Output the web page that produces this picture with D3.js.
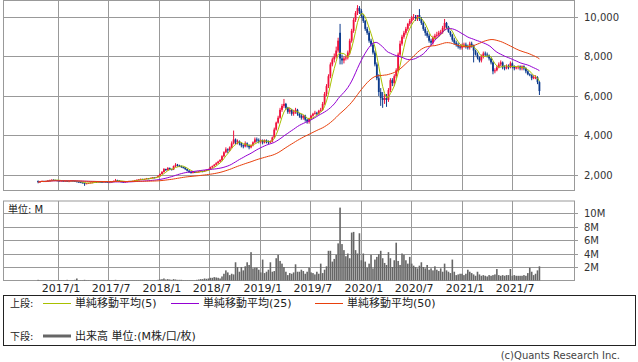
<!DOCTYPE html>
<html>
<head>
<meta charset="utf-8">
<script src="https://d3js.org/d3.v7.min.js"></script>
<style>
  body { margin: 0; background: #fff; }
  text { font-family: "DejaVu Sans", "Noto Sans CJK JP", sans-serif; }
</style>
</head>
<body>
<script>
// weekly candles, first week 2016/10/21
var startWeek = new Date(2016, 9, 21);

var opens = [
  1700,1640,1680,1700,1660,1700,1720,1740,1760,1750,
  1730,1720,1700,1710,1690,1700,1680,1690,1720,1700,
  1680,1660,1640,1620,1600,1560,1580,1600,1620,1630,
  1650,1640,1660,1650,1640,1660,1650,1630,1640,1660,
  1700,1740,1720,1680,1660,1650,1660,1680,1700,1690,
  1710,1740,1760,1780,1800,1790,1800,1830,1820,1850,
  1880,1870,1900,1960,2050,2150,2300,2250,2350,2300,
  2280,2450,2520,2480,2450,2400,2380,2300,2220,2150,
  2120,2150,2130,2160,2180,2200,2180,2230,2260,2300,
  2400,2450,2520,2600,2680,2760,2950,3150,3300,3250,
  3400,3600,3800,3650,3700,3600,3500,3450,3600,3500,
  3400,3500,3650,3800,3750,3700,3750,3650,3750,3700,
  3650,3700,3900,4300,4650,4900,5300,5500,5600,5400,
  5200,5300,5100,5200,5300,5100,5000,4900,5000,4800,
  4700,4850,5000,5100,5150,5100,5250,5300,5600,6100,
  6500,7000,7600,7850,8000,8300,9200,7900,7800,7900,
  7950,8200,8800,9300,9850,10200,10450,10300,10050,9800,
  9400,9200,8800,8600,8200,7600,6900,6200,5900,5800,
  5900,5800,6300,6800,6650,7000,7300,8100,8650,9000,
  9200,9400,9650,9800,9950,10000,9950,10100,9900,9700,
  9400,9200,9050,8800,8700,8950,9050,9100,9200,9250,
  9450,9700,9500,9250,9100,8850,8700,8600,8500,8450,
  8550,8600,8500,8450,8650,8550,8300,8100,7950,7800,
  8000,8150,8100,8050,7900,7700,7250,7300,7450,7600,
  7700,7450,7400,7500,7450,7650,7500,7400,7450,7500,
  7400,7500,7400,7250,7100,7050,6900,6950,6950,6700
];
var highs = [
  1720,1700,1720,1710,1710,1740,1760,1780,1780,1760,
  1750,1730,1730,1720,1710,1710,1700,1730,1730,1710,
  1690,1670,1650,1630,1610,1590,1610,1630,1640,1660,
  1670,1670,1670,1660,1670,1670,1660,1650,1670,1720,
  1800,1760,1730,1700,1670,1670,1690,1710,1710,1720,
  1750,1770,1790,1820,1810,1810,1850,1840,1870,1900,
  1900,1910,1980,2080,2200,2350,2320,2400,2380,2320,
  2480,2600,2560,2520,2480,2430,2400,2320,2250,2180,
  2170,2170,2180,2200,2230,2220,2250,2280,2320,2420,
  2480,2560,2650,2720,2800,3000,3200,3400,3350,3450,
  3700,4250,3850,3800,3750,3650,3550,3700,3650,3550,
  3550,3700,3900,3900,3850,3800,3800,3800,3800,3750,
  3750,3950,4400,4700,5000,5400,5600,5850,5650,5450,
  5400,5350,5300,5400,5350,5150,5100,5050,5050,4850,
  4900,5050,5150,5250,5200,5300,5400,5700,6200,6600,
  7100,7700,7950,8150,8500,8950,9650,8100,8000,8050,
  8300,8900,9400,9950,10300,10600,10550,10400,10150,9850,
  9500,9300,8900,8700,8300,7700,7100,6400,6200,6100,
  6100,6400,6900,6900,7100,7400,8200,8800,9100,9300,
  9500,9700,9900,10050,10150,10100,10100,10400,10000,9800,
  9500,9300,9150,8900,9050,9150,9250,9300,9350,9550,
  9900,9750,9550,9300,9150,8950,8800,8700,8600,8650,
  8700,8700,8600,8750,8750,8600,8350,8200,8000,8100,
  8250,8250,8200,8100,7950,7750,7400,7550,7700,7800,
  7750,7550,7600,7600,7750,7700,7550,7500,7550,7550,
  7550,7550,7450,7300,7150,7100,7050,7050,7000,6750
];
var lows = [
  1580,1620,1660,1640,1640,1680,1700,1720,1730,1710,
  1700,1680,1690,1670,1670,1660,1660,1680,1680,1660,
  1640,1620,1600,1580,1450,1540,1560,1580,1600,1610,
  1620,1620,1630,1620,1620,1630,1610,1610,1620,1640,
  1680,1700,1660,1640,1630,1630,1650,1670,1670,1670,
  1690,1720,1740,1760,1770,1770,1790,1800,1800,1830,
  1840,1850,1880,1930,2020,2120,2200,2220,2250,2230,
  2250,2400,2420,2400,2360,2330,2250,2180,2100,2070,
  2080,2100,2100,2130,2150,2140,2160,2200,2230,2270,
  2350,2420,2480,2560,2640,2700,2900,3100,3100,3200,
  3350,3550,3550,3550,3500,3400,3350,3400,3400,3300,
  3350,3450,3600,3650,3600,3600,3550,3600,3600,3550,
  3600,3650,3850,4250,4600,4850,5200,5400,5300,5100,
  5100,5000,5000,5100,5000,4900,4800,4800,4700,4600,
  4600,4800,4950,5050,5000,5050,5200,5250,5550,6000,
  6400,6900,7500,7700,7900,8200,7600,7600,7650,7800,
  7850,8100,8700,9200,9750,10100,10150,9950,9700,9300,
  9100,8700,8500,8100,7500,6800,6000,5500,5400,5600,
  5450,5700,6200,6500,6500,6900,7200,8000,8550,8900,
  9100,9300,9550,9700,9850,9800,9800,9800,9600,9300,
  9050,8950,8700,8550,8600,8850,8950,9000,9100,9150,
  9350,9400,9200,9000,8750,8600,8500,8400,8350,8350,
  8450,8400,8350,8350,8450,7700,8050,7850,7700,7700,
  7900,8000,7950,7800,7600,7100,7150,7250,7400,7500,
  7350,7300,7350,7350,7400,7400,7300,7350,7350,7300,
  7300,7300,7150,7050,7000,6800,6850,6850,6600,6050
];
var closes = [
  1640,1680,1700,1660,1700,1720,1740,1760,1750,1730,
  1720,1700,1710,1690,1700,1680,1690,1720,1700,1680,
  1660,1640,1620,1600,1560,1580,1600,1620,1630,1650,
  1640,1660,1650,1640,1660,1650,1630,1640,1660,1700,
  1740,1720,1680,1660,1650,1660,1680,1700,1690,1710,
  1740,1760,1780,1800,1790,1800,1830,1820,1850,1880,
  1870,1900,1960,2050,2150,2300,2250,2350,2300,2280,
  2450,2520,2480,2450,2400,2380,2300,2220,2150,2120,
  2150,2130,2160,2180,2200,2180,2230,2260,2300,2400,
  2450,2520,2600,2680,2760,2950,3150,3300,3250,3400,
  3600,3800,3650,3700,3600,3500,3450,3600,3500,3400,
  3500,3650,3800,3750,3700,3750,3650,3750,3700,3650,
  3700,3900,4300,4650,4900,5300,5500,5600,5400,5200,
  5300,5100,5200,5300,5100,5000,4900,5000,4800,4700,
  4850,5000,5100,5150,5100,5250,5300,5600,6100,6500,
  7000,7600,7850,8000,8300,8800,7900,7800,7900,7950,
  8200,8800,9300,9850,10200,10450,10300,10050,9800,9400,
  9200,8800,8600,8200,7600,6900,6200,5900,5800,5900,
  5800,6300,6800,6650,7000,7300,8100,8650,9000,9200,
  9400,9650,9800,9950,10000,9950,10100,9900,9700,9400,
  9200,9050,8800,8700,8950,9050,9100,9200,9250,9450,
  9700,9500,9250,9100,8850,8700,8600,8500,8450,8550,
  8600,8500,8450,8650,8550,8300,8100,7950,7800,8000,
  8150,8100,8050,7900,7700,7250,7300,7450,7600,7700,
  7450,7400,7500,7450,7650,7500,7400,7450,7500,7400,
  7500,7400,7250,7100,7050,6900,6950,6950,6700,6250
];
// volume, millions
var volumes = [
  0.1,0.05,0.05,0.05,0.05,0.05,0.05,0.05,0.05,0.05,
  0.05,0.05,0.05,0.05,0.05,0.1,0.05,0.05,0.05,0.1,
  0.3,0.05,0.05,0.05,0.1,0.05,0.05,0.05,0.05,0.05,
  0.05,0.05,0.05,0.05,0.05,0.05,0.05,0.05,0.05,0.05,
  0.1,0.05,0.05,0.05,0.05,0.05,0.05,0.05,0.05,0.05,
  0.05,0.05,0.05,0.05,0.05,0.05,0.05,0.05,0.05,0.05,
  0.05,0.05,0.1,0.15,0.2,0.3,0.15,0.2,0.15,0.1,
  0.2,0.15,0.1,0.1,0.1,0.05,0.05,0.05,0.05,0.05,
  0.05,0.05,0.1,0.15,0.2,0.2,0.3,0.25,0.3,0.4,
  0.4,0.5,0.45,0.4,0.3,0.6,1.0,1.5,1.2,0.8,
  1.0,0.9,2.7,2.0,1.3,2.0,1.5,2.1,2.7,2.3,
  4.2,1.8,1.9,1.9,1.6,1.2,3.1,1.1,1.3,1.6,
  2.7,1.3,1.4,3.3,3.8,2.9,2.5,2.0,1.3,0.8,
  1.1,1.0,1.2,2.4,1.3,1.3,1.6,1.4,1.0,1.3,
  1.9,1.2,1.1,0.9,1.3,1.0,2.5,1.1,1.6,2.1,
  4.4,4.4,2.8,3.2,3.8,5.5,10.8,5.4,4.5,3.6,
  4.0,3.3,7.1,7.2,4.5,4.0,7.0,3.0,4.0,2.8,
  1.9,2.5,3.8,1.8,3.1,3.5,3.9,4.4,3.3,2.6,
  2.3,4.2,3.3,2.0,3.0,5.6,2.9,2.3,4.0,3.8,
  3.0,2.5,3.5,2.5,2.2,2.0,1.8,2.2,2.7,2.0,
  1.8,2.3,1.6,1.8,1.5,2.1,1.6,1.4,1.8,1.3,
  2.5,1.5,1.3,1.1,3.1,1.3,0.8,0.9,1.0,1.0,
  0.8,1.0,1.6,1.3,1.1,0.9,0.7,1.3,0.9,0.7,
  0.8,0.7,0.6,0.8,0.7,0.8,0.9,1.7,0.8,0.7,
  0.8,0.7,0.8,0.8,1.7,0.7,0.8,0.7,0.7,0.7,
  0.7,0.8,0.7,1.1,1.9,1.3,0.8,1.0,1.5,2.1
];

var priceTicks = [2000, 4000, 6000, 8000, 10000];
var volumeTicks = [2, 4, 6, 8, 10];
var maPeriods = [5, 25, 50];
var maColors = ["#a8c000", "#9400d3", "#e8400c"];
var maLabels = ["単純移動平均(5)", "単純移動平均(25)", "単純移動平均(50)"];

var data = closes.map(function (c, i) {
  return { date: d3.timeDay.offset(startWeek, 7 * i), o: opens[i], h: highs[i], l: lows[i], c: c, v: volumes[i] };
});

var W = 638, H = 362;
var left = 3, right = 574;
var pTop = 0.5, pBottom = 190.5;
var vTop = 201, vBottom = 280.5;
var gridColor = "#999";

var svg = d3.select("body").append("svg")
  .attr("width", W).attr("height", H);

var x = d3.scaleTime()
  .domain([new Date(2016, 5, 16), new Date(2022, 1, 10)])
  .range([left, right]);
var yP = d3.scaleLinear().domain([1215, 10835]).range([pBottom, pTop]);
var yV = d3.scaleLinear().domain([0, 11.78]).range([vBottom, vTop]);

// half-year ticks inside the data range only
var xTicks = d3.timeMonth.every(6).range(new Date(2017, 0, 1), new Date(2021, 6, 2));
var fmtDate = d3.timeFormat("%Y/%-m");

function panel(top, bottom, yScale, ticks, fmt) {
  var g = svg.append("g");
  g.selectAll(".hg").data(ticks).enter().append("line")
    .attr("x1", left).attr("x2", right + 4)
    .attr("y1", function (d) { return Math.round(yScale(d)) + 0.5; })
    .attr("y2", function (d) { return Math.round(yScale(d)) + 0.5; })
    .attr("stroke", gridColor);
  g.selectAll(".vg").data(xTicks).enter().append("line")
    .attr("x1", function (d) { return Math.round(x(d)) + 0.5; })
    .attr("x2", function (d) { return Math.round(x(d)) + 0.5; })
    .attr("y1", top).attr("y2", bottom)
    .attr("stroke", gridColor);
  g.append("rect")
    .attr("x", left + 0.5).attr("y", top)
    .attr("width", right - left).attr("height", bottom - top)
    .attr("fill", "none").attr("stroke", gridColor);
  g.selectAll(".yl").data(ticks).enter().append("text")
    .attr("x", 584)
    .attr("y", function (d) { return yScale(d) + 4; })
    .attr("font-size", "10px").attr("fill", "#333")
    .text(fmt);
}

panel(pTop, pBottom, yP, priceTicks, d3.format(","));
panel(vTop, vBottom, yV, volumeTicks, function (d) { return d + "M"; });

// volume bars
svg.append("g").selectAll("rect").data(data).enter().append("rect")
  .attr("x", function (d) { return x(d.date) - 0.8; })
  .attr("width", 1.6)
  .attr("y", function (d) { return yV(d.v); })
  .attr("height", function (d) { return vBottom - yV(d.v); })
  .attr("fill", "#666");

// candles
var up = "#f0103c", down = "#0c3a8c";
var cg = svg.append("g");
cg.selectAll("line").data(data).enter().append("line")
  .attr("x1", function (d) { return x(d.date); })
  .attr("x2", function (d) { return x(d.date); })
  .attr("y1", function (d) { return yP(d.h); })
  .attr("y2", function (d) { return yP(d.l); })
  .attr("stroke", function (d) { return d.c >= d.o ? up : down; })
  .attr("stroke-width", 1);
cg.selectAll("rect").data(data).enter().append("rect")
  .attr("x", function (d) { return x(d.date) - 0.9; })
  .attr("width", 1.8)
  .attr("y", function (d) { return yP(Math.max(d.o, d.c)); })
  .attr("height", function (d) { return Math.max(1, Math.abs(yP(d.o) - yP(d.c))); })
  .attr("fill", function (d) { return d.c >= d.o ? up : down; });

// moving averages
maPeriods.forEach(function (n, k) {
  var ma = data.map(function (d, i) {
    return { date: d.date, v: d3.mean(closes.slice(Math.max(0, i - n + 1), i + 1)) };
  });
  svg.append("path").datum(ma)
    .attr("fill", "none").attr("stroke", maColors[k]).attr("stroke-width", 1)
    .attr("d", d3.line().x(function (d) { return x(d.date); }).y(function (d) { return yP(d.v); }));
});

// labels
svg.append("text").attr("x", 8).attr("y", 213)
  .attr("font-size", "10px").attr("fill", "#222").text("単位: M");

svg.append("g").selectAll("text").data(xTicks).enter().append("text")
  .attr("x", function (d) { return x(d) + 3; })
  .attr("y", 292)
  .attr("text-anchor", "middle")
  .attr("font-size", "11px").attr("fill", "#222")
  .text(fmtDate);

// legend
var lg = svg.append("g");
lg.append("rect").attr("x", 3.5).attr("y", 295.5).attr("width", 632).attr("height", 50)
  .attr("fill", "none").attr("stroke", "#222");
lg.append("text").attr("x", 10).attr("y", 307).attr("font-size", "10px").attr("fill", "#222").text("上段:");
var legendX = [43, 171, 315];
maLabels.forEach(function (t, k) {
  lg.append("line").attr("x1", legendX[k]).attr("x2", legendX[k] + 28)
    .attr("y1", 303.5).attr("y2", 303.5).attr("stroke", maColors[k]);
  lg.append("text").attr("x", legendX[k] + 32).attr("y", 307)
    .attr("font-size", "11px").attr("fill", "#222").text(t);
});
lg.append("text").attr("x", 10).attr("y", 340).attr("font-size", "10px").attr("fill", "#222").text("下段:");
lg.append("line").attr("x1", 43).attr("x2", 71).attr("y1", 336).attr("y2", 336)
  .attr("stroke", "#666").attr("stroke-width", 3);
lg.append("text").attr("x", 75).attr("y", 340).attr("font-size", "11px").attr("fill", "#222")
  .text("出来高 単位:(M株/口/枚)");

svg.append("text").attr("x", 620).attr("y", 359).attr("text-anchor", "end")
  .attr("font-size", "10px").attr("fill", "#444").text("(c)Quants Research Inc.");
</script>
</body>
</html>
